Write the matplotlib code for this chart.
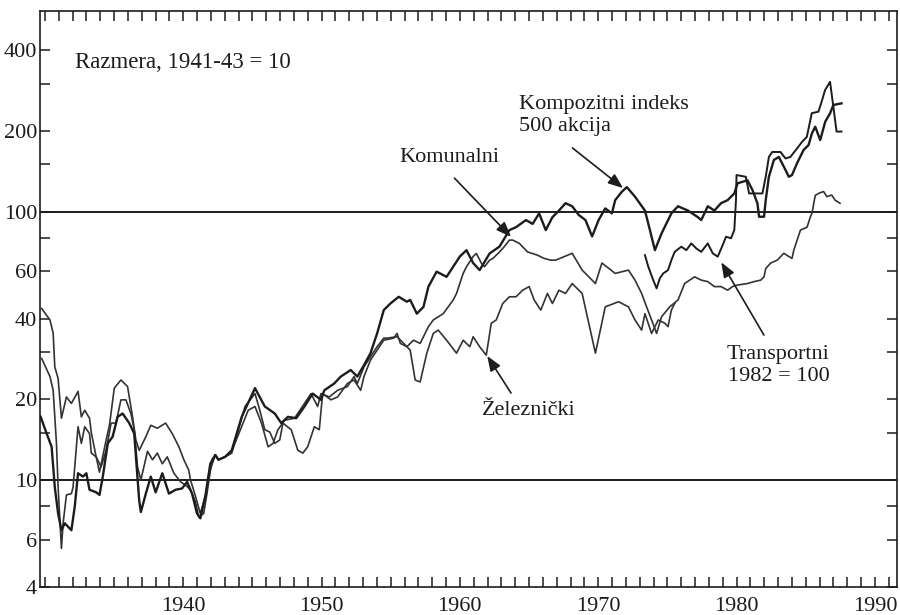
import matplotlib
matplotlib.use("Agg")
import matplotlib.pyplot as plt
from matplotlib.ticker import FixedLocator, MultipleLocator, NullFormatter, FixedFormatter

plt.rcParams['font.family'] = ['Liberation Serif', 'DejaVu Serif']

# ---------------- data (years, index values; 1941-43 = 10) ----------------
comp_years = [1929.7, 1930.13, 1930.49, 1930.72, 1930.96, 1931.2, 1931.44, 1931.92, 1932.16, 1932.4,
              1932.76, 1933.0, 1933.23, 1933.71, 1933.95, 1934.19, 1934.55, 1934.9, 1935.26, 1935.62,
              1936.1, 1936.46, 1936.82, 1936.94, 1937.3, 1937.66, 1938.01, 1938.49, 1938.97, 1939.45,
              1939.92, 1940.28, 1940.64, 1941.0, 1941.24, 1941.6, 1941.96, 1942.32, 1942.55, 1943.03,
              1943.51, 1944.23, 1945.19, 1945.9, 1946.62, 1947.09, 1947.57, 1948.17, 1948.77, 1949.36,
              1949.96, 1950.2, 1950.92, 1951.39, 1952.11, 1952.59, 1953.07, 1953.54, 1954.02, 1954.5,
              1954.98, 1955.58, 1956.17, 1956.41, 1956.89, 1957.37, 1957.73, 1958.32, 1959.04, 1960.0,
              1960.48, 1960.96, 1961.43, 1962.15, 1962.87, 1963.58, 1964.06, 1964.78, 1965.26, 1965.73,
              1966.21, 1966.69, 1967.16, 1967.64, 1968.12, 1968.6, 1969.08, 1969.56, 1970.03, 1970.51,
              1970.99, 1971.23, 1971.71, 1972.07, 1972.66, 1973.38, 1973.74, 1974.1, 1974.58, 1975.29,
              1975.77, 1976.49, 1977.21, 1977.45, 1977.92, 1978.4, 1978.88, 1979.36, 1979.84, 1980.07,
              1980.79, 1981.15, 1981.51, 1981.63, 1981.99, 1982.11, 1982.34, 1982.7, 1983.06, 1983.42,
              1983.78, 1984.01, 1984.37, 1984.85, 1985.21, 1985.45, 1985.69, 1986.05, 1986.41, 1986.76,
              1987.0, 1987.59]
comp_values = [17.2, 14.9, 13.3, 9.4, 7.5, 6.5, 6.9, 6.5, 7.95, 10.6,
               10.3, 10.6, 9.2, 9.0, 8.8, 10.3, 13.7, 14.5, 17.2, 17.7,
               16.3, 14.9, 8.4, 7.6, 8.9, 10.3, 9.0, 10.6, 8.9, 9.2,
               9.3, 9.85, 8.9, 7.5, 7.2, 8.7, 11.5, 12.4, 11.9, 12.2,
               12.9, 17.2, 22.0, 18.8, 17.7, 16.3, 17.2, 17.0, 18.8, 21.0,
               19.9, 21.6, 22.9, 24.3, 25.7, 24.3, 26.8, 29.7, 35.2, 43.0,
               45.5, 48.2, 46.2, 46.9, 41.7, 44.2, 52.6, 59.8, 57.2, 68.1,
               71.9, 64.4, 60.6, 69.9, 74.2, 85.4, 87.6, 93.1, 90.1, 98.6,
               85.4, 95.4, 101, 107.6, 104.8, 97.2, 93.1, 80.9, 93.1, 102.9,
               98.6, 110.5, 118.7, 123.5, 113.8, 101, 85.4, 71.9, 83, 98.6,
               104.8, 101, 95.4, 93.1, 104.8, 101, 107.6, 110.5, 117, 127.6,
               131, 120.5, 107.5, 95.8, 95.8, 110.5, 135, 156, 160, 147.2,
               135, 137, 151.5, 170, 177.3, 196, 207.4, 185, 216.5, 232.6,
               249.9, 253.5]

util_years = [1929.77, 1930.37, 1930.6, 1930.72, 1930.96, 1931.2, 1931.56, 1931.92, 1932.4, 1932.64,
              1932.88, 1933.23, 1933.36, 1933.71, 1933.95, 1934.43, 1934.67, 1935.02, 1935.5, 1935.98,
              1936.34, 1936.58, 1936.82, 1937.3, 1937.66, 1938.13, 1938.73, 1939.21, 1939.69, 1940.05,
              1940.4, 1940.53, 1940.89, 1941.24, 1941.6, 1941.96, 1942.32, 1942.55, 1943.03,
              1943.51, 1944.47, 1945.19, 1945.54, 1945.9, 1946.26, 1946.62, 1946.98, 1947.21, 1947.81,
              1948.29, 1948.65, 1949.0, 1949.48, 1949.84, 1950.08, 1950.68, 1951.16, 1951.87, 1952.35,
              1952.83, 1953.07, 1953.54, 1954.02, 1954.5, 1955.22, 1955.46, 1955.7, 1956.17, 1956.65,
              1957.13, 1957.73, 1958.08, 1958.8, 1959.52, 1959.76, 1960.24, 1960.48, 1960.96, 1961.19,
              1961.55, 1961.79, 1962.15, 1962.39, 1962.87, 1963.22, 1963.58, 1963.82, 1964.3, 1964.9,
              1965.61, 1966.09, 1966.57, 1966.93, 1968.12, 1968.84, 1969.8, 1970.27, 1971.23, 1972.19,
              1972.66, 1973.14, 1973.5, 1973.86, 1974.22, 1974.58, 1975.17, 1975.77, 1976.25, 1976.97,
              1977.45, 1977.92, 1978.4, 1978.88, 1979.36, 1979.71, 1980.07, 1980.79, 1981.27, 1981.75,
              1981.99, 1982.11, 1982.47, 1982.94, 1983.42, 1983.78, 1984.01, 1984.14, 1984.62, 1985.1,
              1985.34, 1985.45, 1985.69, 1985.93, 1986.29, 1986.53, 1986.88, 1987.12, 1987.48]
util_values = [43.6, 39.5, 35.3, 26.4, 23.9, 17.0, 20.4, 19.3, 21.4, 17.2,
               18.2, 17.0, 15.0, 12.2, 10.7, 14.1, 16.0, 22.0, 23.6, 22.3,
               17.2, 14.1, 12.9, 14.5, 16.0, 15.6, 16.3, 14.9, 13.3, 11.9,
               10.9, 10.0, 8.7, 7.5, 8.7, 10.9, 12.4, 11.9, 12.2,
               12.6, 18.8, 21.0, 18.2, 15.4, 15.1, 13.7, 14.1, 16.3, 15.4,
               12.9, 12.6, 13.3, 15.8, 15.4, 21.0, 19.9, 20.4, 22.9, 23.6,
               21.6, 24.3, 28.0, 30.5, 33.2, 33.8, 35.2, 32.3, 31.4, 33.2,
               32.3, 37.3, 39.5, 41.7, 46.9, 49.6, 58.9, 62.4, 68.1, 69.9,
               64.4, 62.4, 66.0, 67.0, 70.8, 74.2, 78.4, 78.4, 76.2, 70.8,
               68.9, 67.0, 66.0, 66.0, 70.0, 60.6, 54.0, 64.4, 58.9, 60.6,
               55.6, 49.6, 44.2, 39.5, 35.2, 40.6, 44.2, 46.9, 54.0, 57.2,
               55.6, 54.9, 52.6, 52.6, 51.0, 52.6, 53.3, 54.0, 54.9, 55.6,
               57.2, 61.4, 64.4, 66.0, 70.0, 68.1, 67.0, 71.9, 85.4, 87.6,
               95.8, 98.6, 115.0, 117, 119, 113.8, 115.4, 110.5, 107.5]

rail_years = [1929.77, 1930.37, 1930.6, 1930.84, 1930.96, 1931.2, 1931.32, 1931.56, 1931.92, 1932.04,
              1932.4, 1932.64, 1932.88, 1933.23, 1933.36, 1933.71, 1934.07, 1934.43, 1934.79, 1935.14,
              1935.5, 1935.86, 1936.22, 1936.46, 1936.7, 1936.94, 1937.42, 1937.78, 1938.13, 1938.49,
              1938.85, 1939.33, 1939.81, 1940.17, 1940.53, 1940.89, 1941.12, 1941.48, 1941.72, 1942.08,
              1942.32, 1942.55, 1943.03,
              1943.51, 1944.7, 1945.19, 1945.66, 1946.14, 1946.5, 1946.85, 1947.33, 1948.05, 1948.77,
              1949.24, 1949.72, 1949.96, 1950.56, 1951.16, 1951.87, 1952.35, 1952.59, 1953.07, 1953.54,
              1954.02, 1954.5, 1954.74, 1955.46, 1955.94, 1956.41, 1956.77, 1957.13, 1957.61, 1958.08,
              1958.44, 1959.04, 1959.76, 1960.24, 1960.72, 1960.96, 1961.43, 1961.91, 1962.27, 1962.63,
              1963.1, 1963.58, 1964.06, 1964.54, 1965.01, 1965.37, 1965.85, 1966.33, 1966.69, 1967.16,
              1967.64, 1968.12, 1968.84, 1969.8, 1970.51, 1971.47, 1972.19, 1972.66, 1973.14, 1973.38,
              1973.86, 1974.34, 1974.82, 1975.05, 1975.29, 1975.53]
rail_values = [28.4, 24.3, 21.6, 13.7, 9.4, 5.56, 6.9, 8.8, 8.9, 9.4,
               15.8, 13.7, 15.8, 14.9, 12.6, 12.2, 11.2, 12.9, 16.3, 16.3,
               19.9, 19.9, 17.7, 15.4, 11.2, 10.0, 12.8, 11.9, 12.6, 11.5,
               12.2, 10.6, 9.85, 9.58, 9.18, 8.3, 7.3, 7.5, 8.9, 11.9,
               12.4, 11.9, 12.2,
               12.8, 18.2, 18.8, 16.3, 13.3, 13.7, 15.4, 16.7, 17.0, 19.3,
               21.0, 18.8, 21.0, 20.4, 21.6, 22.3, 24.3, 22.9, 26.4, 28.8,
               31.4, 33.8, 33.8, 34.2, 32.3, 30.5, 23.6, 23.2, 29.7, 35.2,
               36.2, 33.2, 29.7, 33.2, 31.4, 34.2, 31.4, 29.2, 38.4, 39.5,
               45.5, 48.2, 48.2, 51.0, 52.6, 46.9, 43.0, 49.6, 45.5, 51.0,
               49.6, 54.0, 49.6, 29.7, 44.2, 46.2, 44.2, 39.5, 36.2, 41.7,
               35.2, 39.5, 38.4, 37.3, 43.0, 45.5]

trans_years = [1973.38, 1973.62, 1973.98, 1974.22, 1974.46, 1974.7, 1975.05, 1975.29, 1975.53, 1976.01,
               1976.37, 1976.73, 1977.09, 1977.45, 1977.92, 1978.28, 1978.64, 1979.0, 1979.24, 1979.6,
               1979.84, 1979.96, 1980.0, 1980.67, 1980.91, 1981.87, 1982.11, 1982.34, 1982.58, 1983.18,
               1983.54, 1983.89, 1984.37, 1984.73, 1985.08, 1985.44, 1985.92, 1986.15, 1986.4, 1986.76,
               1987.0, 1987.23, 1987.59]
trans_values = [68.9, 62.4, 55.6, 51.8, 56.5, 58.9, 60.6, 66.0, 70.9, 74.1,
                71.9, 76.2, 73.0, 70.9, 76.2, 70.0, 68.0, 75.1, 80.7, 79.6,
                85.5, 110.5, 137, 135, 117, 117, 135, 160, 167, 167,
                158, 160, 172, 182, 190, 233, 236, 257, 284, 305,
                246, 199, 199]

y_major = [4, 6, 10, 20, 40, 60, 100, 200, 400]
y_minor = [8, 15, 30, 80, 150, 300]
x_labels = [1940, 1950, 1960, 1970, 1980, 1990]
ref_lines = [10, 100]

# ---------------- figure ----------------
fig = plt.figure(figsize=(9, 6.15), dpi=100)
ax = fig.add_axes([40 / 900, 1 - 586.8 / 615, 857 / 900, (586.8 - 11) / 615])

ink = '#1c1c1c'
ax.plot(comp_years, comp_values, color=ink, lw=1.7, zorder=4)
ax.plot(util_years, util_values, color='#333333', lw=1.2, zorder=3)
ax.plot(rail_years, rail_values, color='#333333', lw=1.2, zorder=3)
ax.plot(trans_years, trans_values, color=ink, lw=1.4, zorder=3)

for v in ref_lines:
    ax.axhline(v, color=ink, lw=1.4, zorder=2)

ax.set_yscale('log')
ax.set_ylim(4, 560)
ax.set_xlim(1929.65, 1991.6)

ax.yaxis.set_major_locator(FixedLocator(y_major))
ax.yaxis.set_major_formatter(FixedFormatter([str(v) for v in y_major]))
ax.yaxis.set_minor_locator(FixedLocator(y_minor))
ax.yaxis.set_minor_formatter(NullFormatter())
ax.xaxis.set_major_locator(FixedLocator(x_labels))
ax.xaxis.set_major_formatter(FixedFormatter([str(v) for v in x_labels]))
ax.xaxis.set_minor_locator(MultipleLocator(1))

ax.tick_params(axis='both', which='both', direction='in', top=True, right=True,
               length=7, width=1.1, color=ink, labelsize=16, labelcolor=ink)
ax.tick_params(axis='x', which='major', pad=7)
ax.tick_params(axis='y', which='major', pad=2)
for s in ax.spines.values():
    s.set_linewidth(1.2)
    s.set_color(ink)

# ---------------- annotations ----------------
fs = 16
ax.text(1932.16, 361, 'Razmera, 1941-43 = 10', fontsize=16.5, ha='left', va='center', color=ink)
ax.text(1964.27, 228, 'Kompozitni indeks\n500 akcija', fontsize=fs, ha='left', va='center',
        linespacing=1.2, color=ink)
ax.text(1955.6, 159, 'Komunalni', fontsize=fs, ha='left', va='center', color=ink)
ax.text(1961.62, 18.2, 'Železnički', fontsize=fs, ha='left', va='center', color=ink)
ax.text(1986.71, 26.7, 'Transportni\n1982 = 100', fontsize=fs, ha='right', va='center',
        multialignment='right', linespacing=1.2, color=ink)

arrow_kw = dict(arrowstyle='-|>,head_length=0.9,head_width=0.35', color=ink, lw=1.2,
                shrinkA=0, shrinkB=0)
ax.annotate('', xy=(1971.8, 122.5), xytext=(1968.14, 172.9), arrowprops=arrow_kw)
ax.annotate('', xy=(1963.7, 80.6), xytext=(1959.61, 133.4), arrowprops=arrow_kw)
ax.annotate('', xy=(1961.98, 29.0), xytext=(1963.7, 21.1), arrowprops=arrow_kw)
ax.annotate('', xy=(1978.9, 64.8), xytext=(1981.98, 34.7), arrowprops=arrow_kw)

fig.savefig('out.png', dpi=100, facecolor='white')
